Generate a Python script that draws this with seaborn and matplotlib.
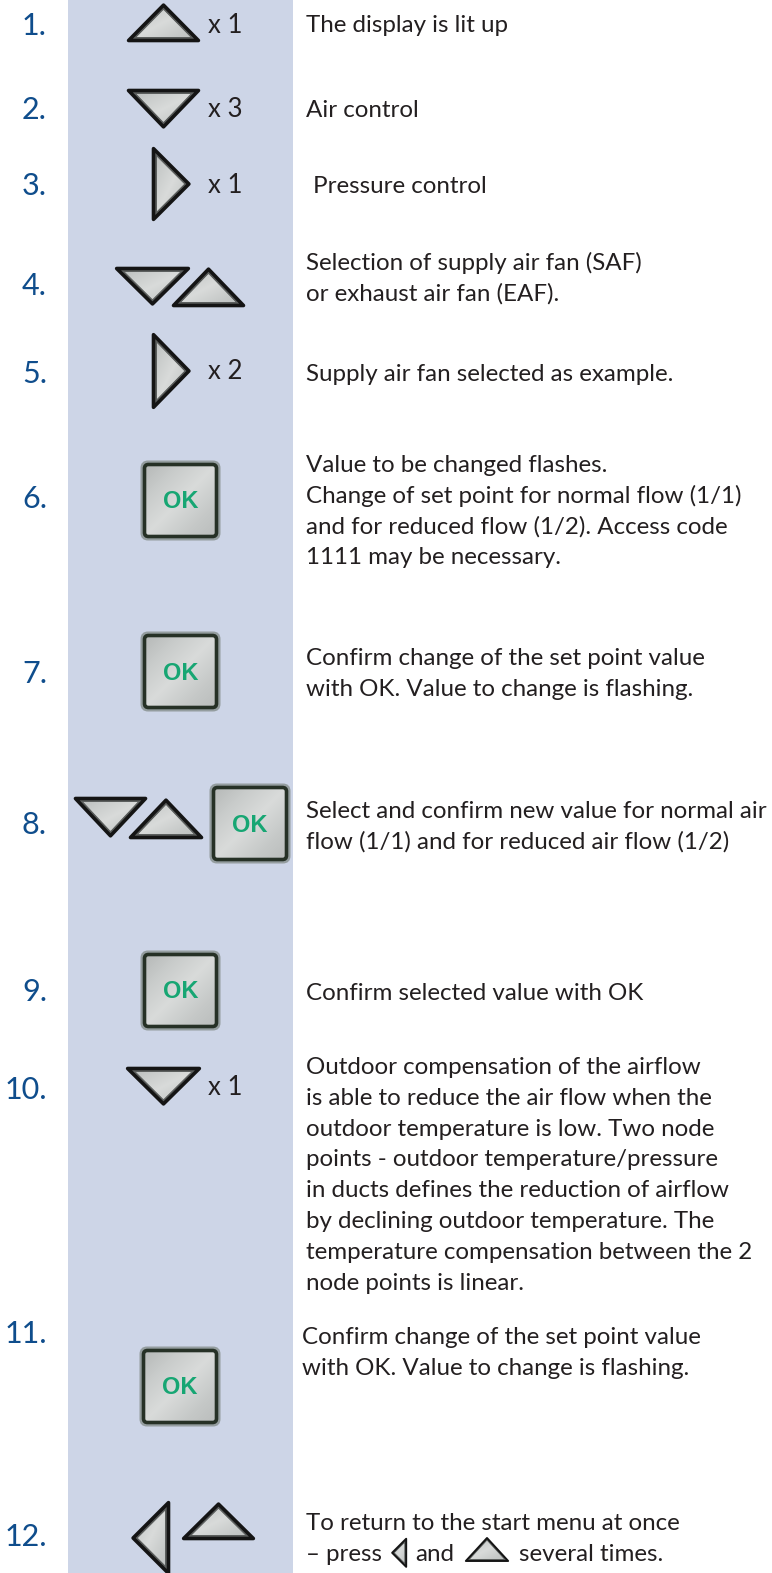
import numpy as np
import matplotlib
matplotlib.use('Agg')
import matplotlib.pyplot as plt
import seaborn as sns
from matplotlib.patches import Polygon, Rectangle, FancyBboxPatch
from matplotlib.colors import LinearSegmentedColormap

# steps of the instruction
step_labels = ['1.', '2.', '3.', '4.', '5.', '6.', '7.', '8.', '9.', '10.', '11.', '12.']
press_counts = ['x 1', 'x 3', 'x 1', '', 'x 2', '', '', '', '', 'x 1', '', '']
step_texts = [
    ['The display is lit up'],
    ['Air control'],
    ['Pressure control'],
    ['Selection of supply air fan (SAF)', 'or exhaust air fan (EAF).'],
    ['Supply air fan selected as example.'],
    ['Value to be changed flashes.',
     'Change of set point for normal flow (1/1)',
     'and for reduced flow (1/2). Access code',
     '1111 may be necessary.'],
    ['Confirm change of the set point value',
     'with OK. Value to change is flashing.'],
    ['Select and confirm new value for normal air',
     'flow (1/1) and for reduced air flow (1/2)'],
    ['Confirm selected value with OK'],
    ['Outdoor compensation of the airflow',
     'is able to reduce the air flow when the',
     'outdoor temperature is low. Two node',
     'points - outdoor temperature/pressure',
     'in ducts defines the reduction of airflow',
     'by declining outdoor temperature. The',
     'temperature compensation between the 2',
     'node points is linear.'],
    ['Confirm change of the set point value',
     'with OK. Value to change is flashing.'],
    ['To return to the start menu at once'],
]
last_line_parts = ['– press', 'LEFT', 'and', 'UP', 'several times.']
row_buttons = [
    [('up', 125, 202, 3, 42)],
    [('down', 125, 202, 89, 129)],
    [('right', 152, 191, 145, 223)],
    [('down', 113, 192, 267, 306), ('up', 170, 247, 267, 307)],
    [('right', 152, 191, 331, 411)],
    [('ok', 142, 219, 462, 539)],
    [('ok', 142, 219, 633, 710)],
    [('down', 72, 149, 797, 838), ('up', 127, 205, 798, 839), ('ok', 211, 289, 785, 862)],
    [('ok', 142, 219, 952, 1029)],
    [('down', 124, 203, 1067, 1106)],
    [('ok', 141, 219, 1348, 1425)],
    [('left', 131, 170, 1499, 1577), ('up', 180, 257, 1502, 1540)],
]

# layout (pixels)
number_y = [35, 119, 195, 295, 383, 508, 683, 834, 1001, 1099, 1343, 1546]
text_y = [32, 117, 193, 270, 381, 472, 665, 818, 1000, 1074, 1344, 1530]
text_x = [306, 306, 313, 306, 306, 306, 306, 306, 306, 306, 302, 306]
count_y = [33, 117, 193, 0, 379, 0, 0, 0, 0, 1095, 0, 0]
line_step = 30.8

sns.set_theme(style='white')
body_font = ['Lato', 'DejaVu Sans']
plt.rcParams['font.family'] = body_font
ink = '#231f20'
num_color = '#0f4d8c'
ok_green = '#17a673'
column_color = '#cdd5e7'
body_size = 17.4
grad_cmap = LinearSegmentedColormap.from_list(
    'btn', ['#b3b6b5', '#c8cbca', '#d9dbda', '#c6c9c8', '#b8bbba'])

fig = plt.figure(figsize=(7.72, 15.73), dpi=100, facecolor='white')
ax = fig.add_axes([0, 0, 1, 1])
ax.set_facecolor('white')
ax.axis('off')
ax.set_xlim(0, 772)
ax.set_ylim(1573, 0)
ax.autoscale(False)

ax.add_patch(Rectangle((68, 0), 225, 1573, fc=column_color, ec='none', zorder=0))


def fill_gradient(patch, x0, x1, y0, y1, z):
    xx, yy = np.meshgrid(np.linspace(0, 1, 64), np.linspace(0, 1, 64))
    g = (xx + yy) / 2
    im = ax.imshow(g, extent=(x0, x1, y1, y0), cmap=grad_cmap, vmin=0, vmax=1,
                   aspect='auto', interpolation='bilinear', zorder=z)
    im.set_clip_path(patch)


def tri_points(kind, x0, x1, y0, y1):
    if kind == 'up':
        return np.array([(x0, y1), ((x0 + x1) / 2, y0), (x1, y1)])
    if kind == 'down':
        return np.array([(x0, y0), (x1, y0), ((x0 + x1) / 2, y1)])
    if kind == 'right':
        return np.array([(x0, y0), (x1, (y0 + y1) / 2), (x0, y1)])
    return np.array([(x1, y0), (x0, (y0 + y1) / 2), (x1, y1)])


def shrink(p, d):
    a = np.linalg.norm(p[1] - p[2])
    b = np.linalg.norm(p[0] - p[2])
    c = np.linalg.norm(p[0] - p[1])
    inc = (a * p[0] + b * p[1] + c * p[2]) / (a + b + c)
    v1, v2 = p[1] - p[0], p[2] - p[0]
    area = abs(v1[0] * v2[1] - v1[1] * v2[0]) / 2
    r = area / ((a + b + c) / 2)
    return inc + (p - inc) * (r - d) / r


def draw_triangle(kind, x0, x1, y0, y1, lw=2.6, band=3.5):
    pts = shrink(tri_points(kind, x0, x1, y0, y1), 1.5 * lw / 2.6)
    outer = Polygon(pts, closed=True, fc='#5c5f5e', ec='#141414', lw=lw,
                    joinstyle='round', zorder=2)
    ax.add_patch(outer)
    inner = Polygon(shrink(pts, band), closed=True, fc='#c6c9c8', ec='none', zorder=3)
    ax.add_patch(inner)
    fill_gradient(inner, x0, x1, y0, y1, 3.1)


def draw_ok(x0, x1, y0, y1):
    halo = FancyBboxPatch((x0 + 1, y0 + 1), x1 - x0 - 2, y1 - y0 - 2,
                          boxstyle='round,pad=0,rounding_size=5',
                          fc='none', ec='#6f786f', lw=3.6, alpha=0.6, zorder=2)
    ax.add_patch(halo)
    box = FancyBboxPatch((x0 + 2.5, y0 + 2.5), x1 - x0 - 5, y1 - y0 - 5,
                         boxstyle='round,pad=0,rounding_size=4',
                         fc='#c8cbca', ec='none', zorder=3)
    ax.add_patch(box)
    fill_gradient(box, x0, x1, y0, y1, 3.1)
    ax.add_patch(FancyBboxPatch((x0 + 2.5, y0 + 2.5), x1 - x0 - 5, y1 - y0 - 5,
                                boxstyle='round,pad=0,rounding_size=4',
                                fc='none', ec='#263126', lw=2.6, zorder=3.2))
    ax.text((x0 + x1) / 2, (y0 + y1) / 2 + 8, 'OK', fontsize=17, fontweight='bold',
            family=['Liberation Sans', 'DejaVu Sans'], color=ok_green,
            ha='center', va='baseline', zorder=4)


for i, label in enumerate(step_labels):
    ax.text(47, number_y[i], label, fontsize=22, color=num_color,
            ha='right', va='baseline')
    for j, line in enumerate(step_texts[i]):
        ax.text(text_x[i], text_y[i] + j * line_step, line, fontsize=body_size,
                color=ink, ha='left', va='baseline')
    if press_counts[i]:
        ax.text(208, count_y[i], press_counts[i], fontsize=18.5, color=ink,
                ha='left', va='baseline')
    for btn in row_buttons[i]:
        if btn[0] == 'ok':
            draw_ok(*btn[1:])
        else:
            draw_triangle(*btn)

# last line of step 12 with small inline buttons
renderer = fig.canvas.get_renderer()
inv = ax.transData.inverted()
base_y = text_y[11] + line_step
x = text_x[11]
for part in last_line_parts:
    if part == 'LEFT':
        x += 9
        draw_triangle('left', x, x + 16, base_y - 24, base_y + 8, lw=1.4, band=2.0)
        x += 16 + 8
    elif part == 'UP':
        x += 10
        draw_triangle('up', x, x + 46, base_y - 24, base_y + 1, lw=1.4, band=2.0)
        x += 46 + 9
    else:
        t = ax.text(x, base_y, part, fontsize=body_size, color=ink,
                    ha='left', va='baseline')
        bb = t.get_window_extent(renderer=renderer)
        x = inv.transform((bb.x1, bb.y0))[0]

ax.set_xlim(0, 772)
ax.set_ylim(1573, 0)
ax.set_aspect('auto')
fig.savefig('out.png', dpi=100, facecolor='white')
